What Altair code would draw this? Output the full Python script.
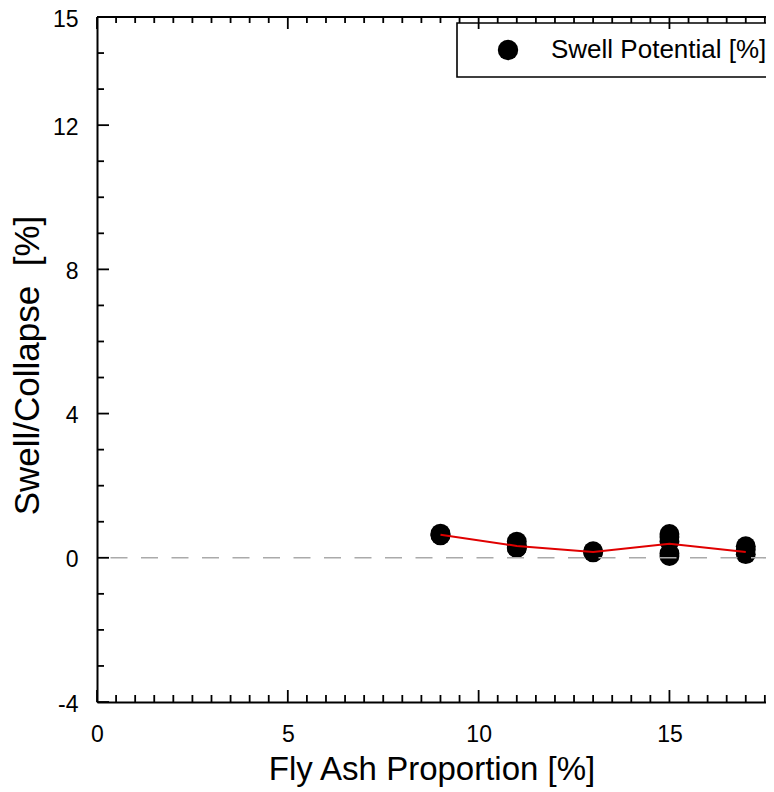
import altair as alt
import pandas as pd

FONT = "Liberation Sans"

# ---- data ----
SERIES = "Swell Potential [%]"
SWELL_X = [9, 9, 9, 11, 11, 11, 11, 13, 13, 15, 15, 15, 15, 15, 17, 17, 17]
SWELL_Y = [0.67, 0.63, 0.62, 0.45, 0.35, 0.28, 0.27, 0.18, 0.15,
           0.66, 0.58, 0.45, 0.12, 0.05, 0.32, 0.22, 0.10]
MEAN_X = [9, 11, 13, 15, 17]
MEAN_Y = [0.64, 0.33, 0.16, 0.39, 0.16]
ZERO_Y = [0]

# ---- axes ----
X_DOMAIN = [0, 17.53]
Y_DOMAIN = [-4, 15]
X_LABELS = [0, 5, 10, 15]
Y_LABELS = [-4, 0, 4, 8, 12, 15]
X_MAJOR = [0, 5, 10, 15]
X_MINOR = [0.5, 1, 1.5, 2, 2.5, 3, 3.5, 4, 4.5, 5.5, 6, 6.5, 7, 7.5, 8, 8.5, 9, 9.5,
           10.5, 11, 11.5, 12, 12.5, 13, 13.5, 14, 14.5, 15.5, 16, 16.5, 17, 17.5]
Y_MAJOR = [-4, 0, 4, 8, 12]
Y_MINOR = [-3, -2, -1, 1, 2, 3, 5, 6, 7, 9, 10, 11, 13, 14]

x_scale = alt.Scale(domain=X_DOMAIN, nice=False, zero=False)
y_scale = alt.Scale(domain=Y_DOMAIN, nice=False, zero=False)

x_axis = alt.Axis(values=X_LABELS, title="Fly Ash Proportion [%]", grid=False,
                  ticks=False, tickSize=0, domainColor="black", domainWidth=2,
                  labelFont=FONT, labelFontSize=23, labelColor="black",
                  labelPadding=21, labelFlush=False,
                  labelExpr="toString(datum.value)",
                  titleFont=FONT, titleFontSize=33, titleFontWeight="normal",
                  titleColor="black", titleBaseline="alphabetic", titleY=77)
y_axis = alt.Axis(values=Y_LABELS, title="Swell/Collapse\u00a0 [%]", grid=False,
                  ticks=False, tickSize=0, domainColor="black", domainWidth=2,
                  labelFont=FONT, labelFontSize=23, labelColor="black",
                  labelPadding=19, labelFlush=False, labelOffset=2,
                  labelExpr="toString(datum.value)",
                  titleFont=FONT, titleFontSize=35, titleFontWeight="normal",
                  titleColor="black", titleBaseline="alphabetic",
                  titleX=-59, titleY=348)


def X(field="x"):
    return alt.X(f"{field}:Q", scale=x_scale, axis=x_axis)


def Y(field="y"):
    return alt.Y(f"{field}:Q", scale=y_scale, axis=y_axis)


pts = pd.DataFrame({"x": SWELL_X, "y": SWELL_Y, "series": SERIES})
means = pd.DataFrame({"x": MEAN_X, "y": MEAN_Y})

points = alt.Chart(pts).mark_circle(size=395, opacity=1).encode(
    x=X(), y=Y(),
    color=alt.Color("series:N",
                    scale=alt.Scale(domain=[SERIES], range=["black"]),
                    legend=alt.Legend(orient="none", legendX=360, legendY=6,
                                      title=None, padding=14,
                                      strokeColor="black",
                                      labelFont=FONT, labelFontSize=26,
                                      labelColor="black", labelLimit=400,
                                      symbolType="circle", symbolSize=415,
                                      symbolOpacity=1, symbolStrokeWidth=0,
                                      symbolOffset=24, labelOffset=30)),
)

line = alt.Chart(means).mark_line(color="#e00000", strokeWidth=2).encode(
    x=X(), y=Y())

zero = alt.Chart(pd.DataFrame({"y": ZERO_Y, "x": X_DOMAIN[0], "x2": X_DOMAIN[1]})).mark_rule(
    color="#aaaaaa", strokeWidth=1.6, strokeDash=[17, 13.5], strokeDashOffset=17
).encode(x=X(), x2="x2:Q", y=Y())

top = alt.Chart(pd.DataFrame({"y": [Y_DOMAIN[1]], "x": X_DOMAIN[0], "x2": X_DOMAIN[1]})).mark_rule(
    color="black", strokeWidth=2).encode(x=X(), x2="x2:Q", y=Y())


def vticks(vals, yv, off):
    df = pd.DataFrame({"x": vals, "y": yv})
    return alt.Chart(df).mark_rule(color="black", strokeWidth=1.8, y2Offset=off).encode(
        x=X(), y=Y(), y2="y:Q")


def hticks(vals, xv, off):
    df = pd.DataFrame({"y": vals, "x": xv})
    return alt.Chart(df).mark_rule(color="black", strokeWidth=1.8,
                                   x2Offset=off).encode(
        x=X(), x2="x:Q", y=Y())


ticks = [
    vticks(X_MAJOR, Y_DOMAIN[0], -12),
    vticks(X_MINOR, Y_DOMAIN[0], -7),
    vticks(X_MAJOR, Y_DOMAIN[1], 12),
    vticks(X_MINOR, Y_DOMAIN[1], 6),
    hticks(Y_MAJOR, X_DOMAIN[0], 12),
    hticks(Y_MINOR, X_DOMAIN[0], 7),
]

chart = alt.layer(points, line, zero, top, *ticks).properties(
    width=669, height=685,
    autosize=alt.AutoSizeParams(type="none"),
    padding={"left": 89, "top": 9, "right": 0, "bottom": 90},
).configure_view(stroke=None).configure_legend(strokeWidth=1.6)

chart.save("out.html", embed_options={"renderer": "svg", "actions": False})
